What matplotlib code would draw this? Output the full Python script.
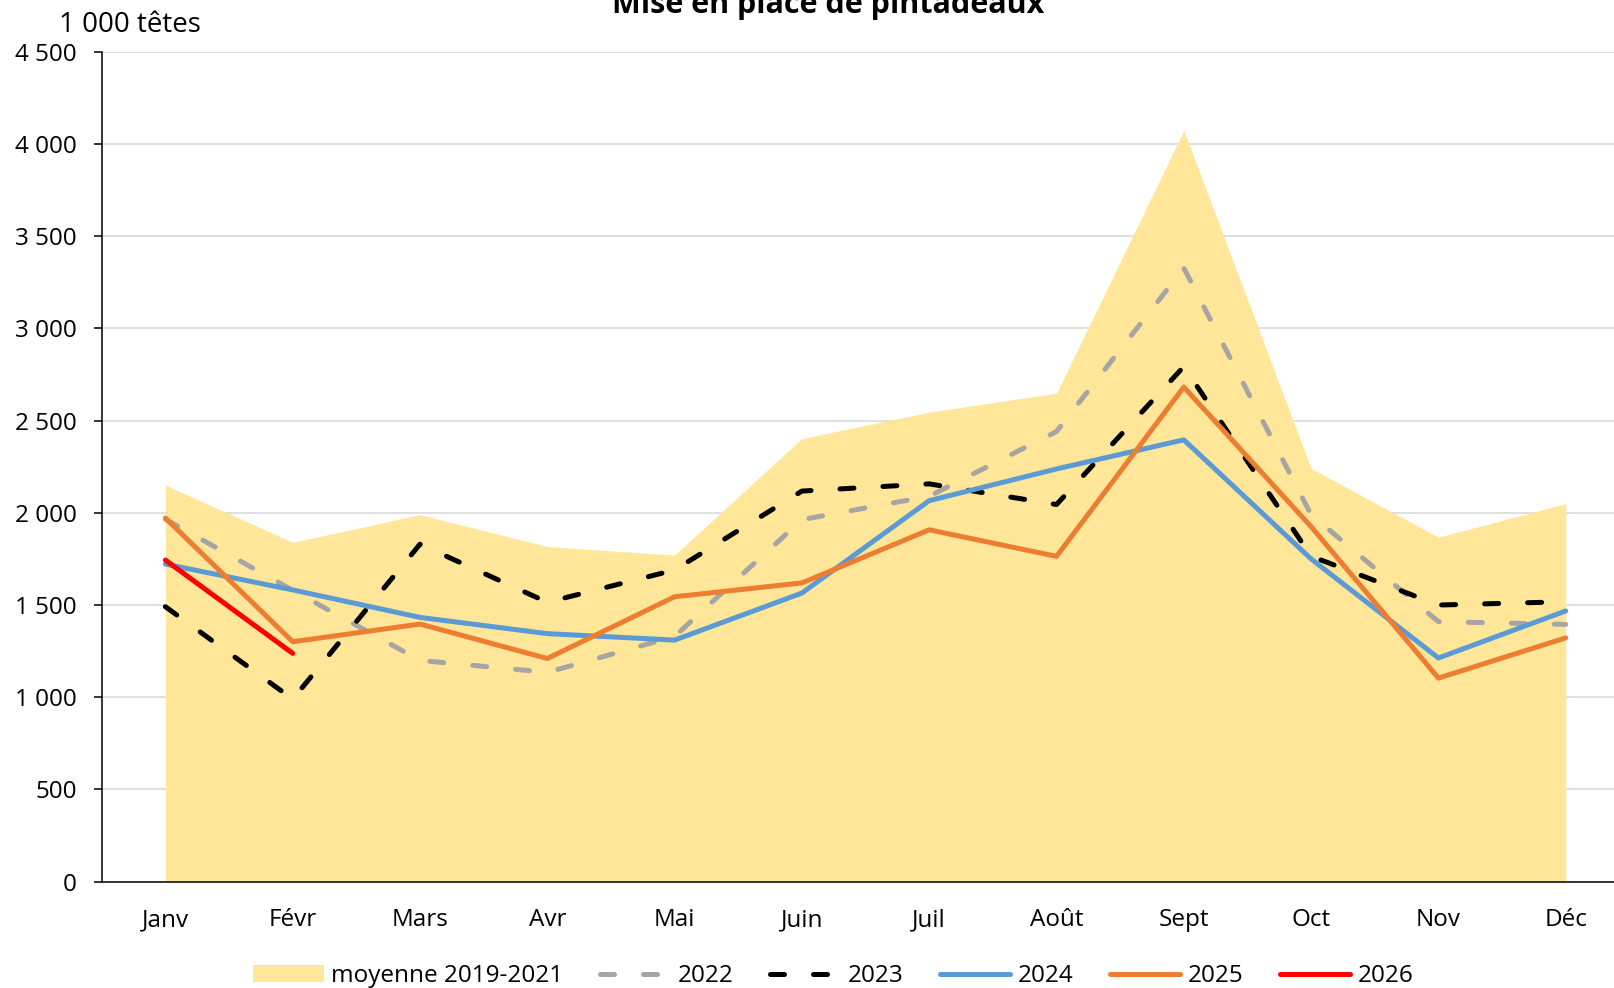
import matplotlib
matplotlib.use("Agg")
import matplotlib.pyplot as plt
from matplotlib.ticker import FuncFormatter, MultipleLocator

plt.rcParams['font.family'] = ['Open Sans', 'DejaVu Sans']

# ---------- Data (1 000 têtes) ----------
months = ["Janv", "Févr", "Mars", "Avr", "Mai", "Juin",
          "Juil", "Août", "Sept", "Oct", "Nov", "Déc"]
moyenne = [2150, 1840, 1990, 1817, 1771, 2403, 2546, 2649, 4073, 2241, 1868, 2050]
y2022 = [1965, 1580, 1200, 1135, 1330, 1963, 2090, 2441, 3327, 1990, 1410, 1395]
y2023 = [1491, 990, 1830, 1515, 1690, 2118, 2157, 2045, 2793, 1765, 1500, 1518]
y2024 = [1722, 1582, 1433, 1345, 1310, 1565, 2066, 2238, 2396, 1750, 1213, 1468]
y2025 = [1972, 1301, 1397, 1210, 1545, 1620, 1908, 1764, 2682, 1925, 1104, 1322]
y2026 = [1744, 1238]

x = list(range(len(months)))

fig = plt.figure(figsize=(16.15, 9.88), dpi=100)
ax = fig.add_axes([0.063, 0.1076, 0.9459, 0.84])

# Fill for the reference average
ax.fill_between(x, 0, moyenne, color="#FFE699", lw=0, zorder=1,
                label="moyenne 2019-2021")

lw = 3.6
ax.plot(x, y2022, color="#A5A5A5", lw=lw, dashes=(2.8, 5.8),
        dash_capstyle="round", zorder=3, label="2022")
ax.plot(x, y2023, color="black", lw=lw, dashes=(2.8, 5.8),
        dash_capstyle="round", zorder=3, label="2023")
ax.plot(x, y2024, color="#5B9BD5", lw=lw, solid_capstyle="round", zorder=3, label="2024")
ax.plot(x, y2025, color="#ED7D31", lw=lw, solid_capstyle="round", zorder=3, label="2025")
ax.plot(x[:len(y2026)], y2026, color="#FF0000", lw=lw,
        solid_capstyle="round", zorder=3, label="2026")

# Axes styling
ax.set_xlim(-0.5, 11.5)
ax.set_ylim(0, 4500)
ax.yaxis.set_major_locator(MultipleLocator(500))
ax.yaxis.set_major_formatter(FuncFormatter(lambda v, p: f"{v:,.0f}".replace(",", " ")))
ax.set_xticks(x)
ax.set_xticklabels(months)
ax.tick_params(axis="x", length=0, pad=19, labelsize=17.5)
ax.tick_params(axis="y", length=6, width=1.1, pad=12, labelsize=17.5)

ax.grid(axis="y", color="#D9D9D9", lw=1.2, zorder=0)
ax.set_axisbelow(True)
for side in ["top", "right"]:
    ax.spines[side].set_visible(False)
for side in ["left", "bottom"]:
    ax.spines[side].set_linewidth(1.1)
    ax.spines[side].set_zorder(4)

# Titles
fig.text(0.513, 1 - 13 / 988, "Mise en place de pintadeaux", ha="center",
         va="baseline", fontsize=22, fontweight="bold")
fig.text(59 / 1615, 1 - 32 / 988, "1 000 têtes", ha="left", va="baseline", fontsize=20)

# Legend
ax.legend(loc="center", bbox_to_anchor=(0.516, 0.012), bbox_transform=fig.transFigure,
          ncol=6, frameon=False, fontsize=17.5, handlelength=2.9, handletextpad=0.3,
          columnspacing=1.5)

fig.savefig("out.png", dpi=100)
